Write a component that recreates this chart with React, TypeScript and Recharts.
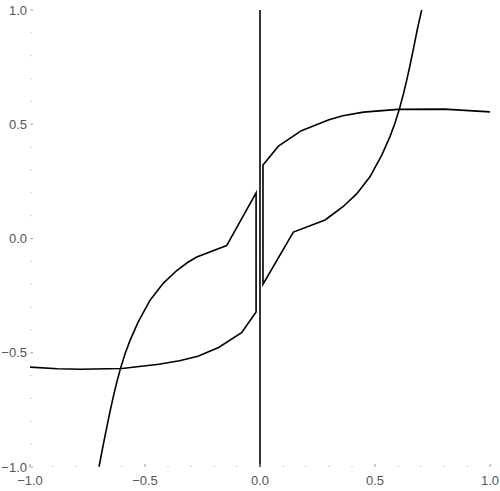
import React from "react"
import { LineChart, Line, XAxis, YAxis } from "recharts"

// left half: lower branch of the flat curve, jump up, then back down the steep curve
const LEFT_PATH_X = [-1, -0.88, -0.78, -0.6, -0.44, -0.35, -0.27, -0.18, -0.08, -0.017, -0.017, -0.145, -0.275, -0.315, -0.362, -0.42, -0.478, -0.53, -0.565, -0.587, -0.605, -0.623, -0.638, -0.652, -0.667, -0.685, -0.7]
const LEFT_PATH_Y = [-0.563, -0.57, -0.572, -0.569, -0.55, -0.535, -0.515, -0.477, -0.412, -0.322, 0.2, -0.031, -0.081, -0.105, -0.14, -0.195, -0.27, -0.366, -0.446, -0.505, -0.563, -0.63, -0.693, -0.757, -0.83, -0.92, -1]

// right half: mirror of the above
const RIGHT_PATH_X = [1, 0.8, 0.6, 0.45, 0.36, 0.3, 0.18, 0.08, 0.013, 0.013, 0.145, 0.283, 0.315, 0.362, 0.42, 0.478, 0.53, 0.565, 0.587, 0.605, 0.623, 0.638, 0.652, 0.667, 0.685, 0.703]
const RIGHT_PATH_Y = [0.554, 0.566, 0.565, 0.553, 0.537, 0.52, 0.472, 0.404, 0.322, -0.2, 0.028, 0.081, 0.105, 0.14, 0.195, 0.27, 0.366, 0.446, 0.505, 0.563, 0.63, 0.693, 0.757, 0.83, 0.92, 1]

// the line along x = 0
const ZERO_LINE_X = [0, 0]
const ZERO_LINE_Y = [-1, 1]

const MAJOR_TICKS = [-1, -0.5, 0, 0.5, 1]
const ALL_TICKS = [-1, -0.9, -0.8, -0.7, -0.6, -0.5, -0.4, -0.3, -0.2, -0.1, 0, 0.1, 0.2, 0.3, 0.4, 0.5, 0.6, 0.7, 0.8, 0.9, 1]

const toPoints = (xs: number[], ys: number[]) => xs.map((x, i) => ({ x, y: ys[i] }))

const leftPath = toPoints(LEFT_PATH_X, LEFT_PATH_Y)
const rightPath = toPoints(RIGHT_PATH_X, RIGHT_PATH_Y)
const zeroLine = toPoints(ZERO_LINE_X, ZERO_LINE_Y)

const LABEL_COLOR = "#555"
const FONT = "'Liberation Sans', Arial, sans-serif"

const isMajor = (v: number) => MAJOR_TICKS.some((m) => Math.abs(m - v) < 1e-9)
const fmt = (v: number) => (v < 0 ? "\u2212" : "") + Math.abs(v).toFixed(1)

function XTick(props: any) {
  const { x, y, payload } = props
  const v = payload.value
  if (!isMajor(v)) {
    return <rect x={x - 0.5} y={y - 1} width={1} height={1} fill="#aaa" />
  }
  return (
    <g>
      <line x1={x} x2={x} y1={y} y2={y - 3} stroke="#999" strokeWidth={1} />
      <text x={x} y={y + 18} textAnchor="middle" fill={LABEL_COLOR} fontSize={13} fontFamily={FONT}>
        {fmt(v)}
      </text>
    </g>
  )
}

function YTick(props: any) {
  const { x, y, payload } = props
  const v = payload.value
  if (!isMajor(v)) {
    return <rect x={x + 0.5} y={y - 0.5} width={1} height={1} fill="#aaa" />
  }
  return (
    <g>
      <line x1={x + 0.5} x2={x + 3} y1={y} y2={y} stroke="#999" strokeWidth={1} />
      <text x={x - 3} y={y + 4.5} textAnchor="end" fill={LABEL_COLOR} fontSize={13} fontFamily={FONT}>
        {fmt(v)}
      </text>
    </g>
  )
}

export default function App() {
  return (
    <div style={{ position: "absolute", left: 0, top: 0, background: "#fff" }}>
      <LineChart width={500} height={491} margin={{ top: 10, right: 10, bottom: 0, left: 0 }}>
        <XAxis
          type="number"
          dataKey="x"
          domain={[-1, 1]}
          ticks={ALL_TICKS}
          interval={0}
          allowDataOverflow
          axisLine={false}
          tickLine={false}
          tickSize={0}
          tickMargin={0}
          height={24}
          tick={<XTick />}
        />
        <YAxis
          type="number"
          dataKey="y"
          domain={[-1, 1]}
          ticks={ALL_TICKS}
          interval={0}
          allowDataOverflow
          axisLine={false}
          tickLine={false}
          tickSize={0}
          tickMargin={0}
          width={30}
          tick={<YTick />}
        />
        <Line data={zeroLine} dataKey="y" stroke="#000" strokeWidth={1.6} dot={false} isAnimationActive={false} />
        <Line data={leftPath} dataKey="y" stroke="#000" strokeWidth={1.6} dot={false} isAnimationActive={false} />
        <Line data={rightPath} dataKey="y" stroke="#000" strokeWidth={1.6} dot={false} isAnimationActive={false} />
      </LineChart>
    </div>
  )
}
